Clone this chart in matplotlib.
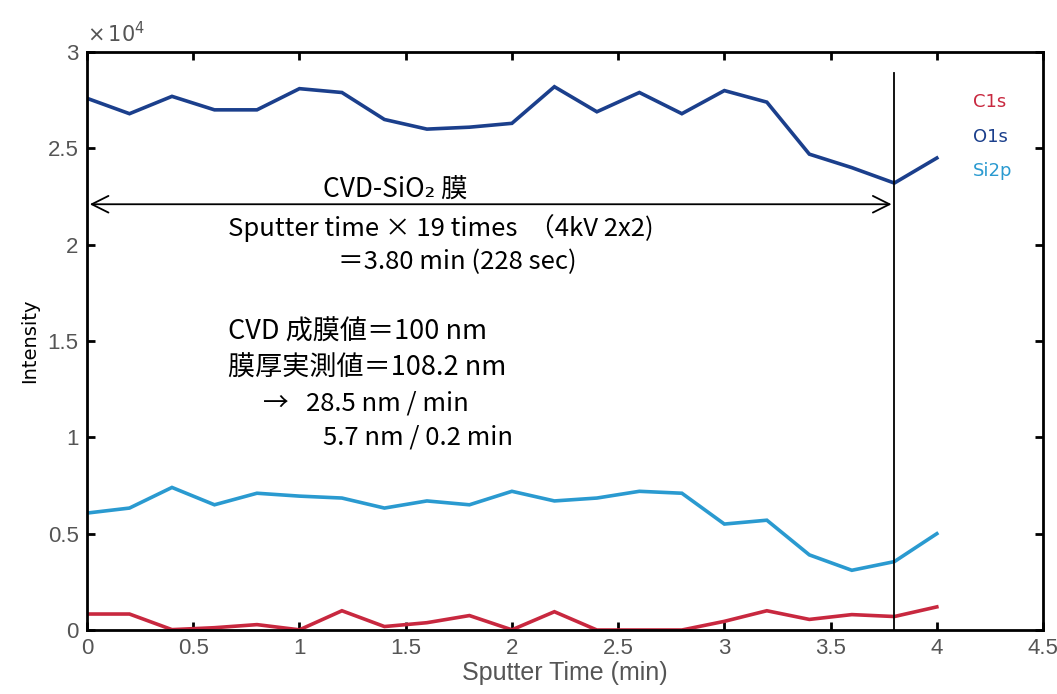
import numpy as np
import matplotlib.pyplot as plt

plt.rcParams['font.family'] = ['Liberation Sans Narrow', 'Liberation Sans', 'DejaVu Sans']
plt.rcParams['axes.unicode_minus'] = False

# スパッタ時間 (min) と各ピーク強度
t = [0.0, 0.2, 0.4, 0.6, 0.8, 1.0, 1.2, 1.4, 1.6, 1.8, 2.0,
     2.2, 2.4, 2.6, 2.8, 3.0, 3.2, 3.4, 3.6, 3.8, 4.0]
c1s = [830, 830, 20, 120, 280, 10, 1000, 180, 380, 750, 10,
       950, 0, 0, 0, 450, 1000, 550, 800, 700, 1200]
o1s = [27600, 26800, 27700, 27000, 27000, 28100, 27900, 26500, 26000, 26100, 26300,
       28200, 26900, 27900, 26800, 28000, 27400, 24700, 24000, 23200, 24500]
si2p = [6070, 6330, 7400, 6500, 7100, 6950, 6850, 6330, 6700, 6500, 7200,
        6700, 6850, 7200, 7100, 5500, 5700, 3900, 3100, 3550, 5000]

series = [('C1s', c1s, '#c8283f'), ('O1s', o1s, '#1b3f8c'), ('Si2p', si2p, '#2a9ad0')]

t_end = 3.8  # CVD-SiO2 膜の終端

fig = plt.figure(figsize=(10.57, 6.94), dpi=100)
ax = fig.add_axes([0.0823, 0.0922, 0.9045, 0.8328])

for name, y, col in series:
    ax.plot(t, y, color=col, lw=2.6, solid_joinstyle='miter')

ax.set_xlim(0, 4.5)
ax.set_ylim(0, 30000)
ax.set_xticks(np.arange(0, 4.51, 0.5))
ax.set_xticklabels(['0', '0.5', '1', '1.5', '2', '2.5', '3', '3.5', '4', '4.5'])
ax.set_yticks(np.arange(0, 30001, 5000))
ax.set_yticklabels(['0', '0.5', '1', '1.5', '2', '2.5', '3'])
ax.tick_params(direction='in', top=True, right=True, length=6, width=2,
               labelsize=16, labelcolor='#555555', pad=6)
for s in ax.spines.values():
    s.set_linewidth(2)
ax.text(0, 30300, r'$\times\,10^4$', fontsize=15, color='#555555', ha='left', va='bottom')

ax.set_xlabel('Sputter Time (min)', fontsize=18, color='#555555', labelpad=1)
ax.set_ylabel('Intensity', fontsize=14, family=['DejaVu Sans'], labelpad=6)

# 凡例 (テキストのみ)
for i, (name, y, col) in enumerate(series):
    ax.text(4.17, 27400 - i * 1800, name, color=col, fontsize=13,
            family=['DejaVu Sans'], va='center', ha='left')

# 膜の範囲
ax.plot([t_end, t_end], [0, 28900], color='black', lw=1.3)
ax.annotate('', xy=(0, 22100), xytext=(t_end, 22100),
            arrowprops=dict(arrowstyle='<->', color='black', lw=1.3,
                            mutation_scale=30))

jp = ['Noto Sans CJK JP', 'DejaVu Sans']
ax.text(1.45, 22200, 'CVD-SiO₂ 膜', fontsize=19, family=jp,
        ha='center', va='bottom')
ax.text(0.664, 20860, 'Sputter time × 19 times  （4kV 2x2)', fontsize=18.5, family=jp, va='center')
ax.text(1.18, 19100, '＝3.80 min (228 sec)', fontsize=18.5, family=jp, va='center')
ax.text(0.664, 15460, 'CVD 成膜値＝100 nm', fontsize=19.5, family=jp, va='center')
ax.text(0.664, 13600, '膜厚実測値＝108.2 nm', fontsize=19.5, family=jp, va='center')
ax.text(0.83, 11780, '→   28.5 nm / min', fontsize=18.5, family=jp, va='center')
ax.text(1.11, 10000, '5.7 nm / 0.2 min', fontsize=18.5, family=jp, va='center')

fig.savefig('out.png', dpi=100)
